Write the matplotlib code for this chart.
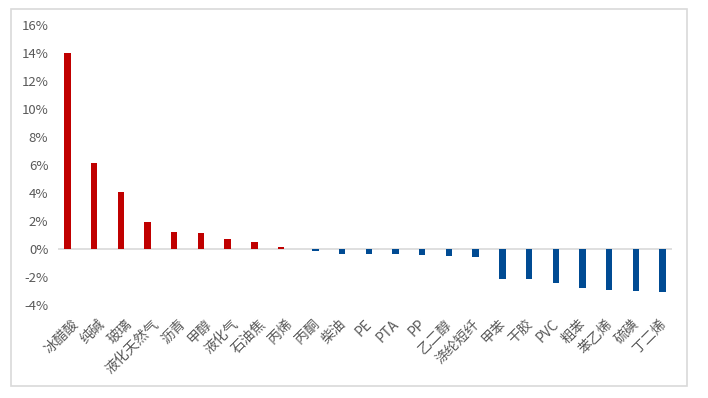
import numpy as np
import matplotlib.pyplot as plt
from matplotlib.patches import Rectangle
from matplotlib.ticker import FuncFormatter

plt.rcParams['font.family'] = ['Noto Sans CJK SC', 'DejaVu Sans']

names = ['冰醋酸', '纯碱', '玻璃', '液化天然气', '沥青', '甲醇', '液化气', '石油焦',
         '丙烯', '丙酮', '柴油', 'PE', 'PTA', 'PP', '乙二醇', '涤纶短纤', '甲苯',
         '干胶', 'PVC', '粗苯', '苯乙烯', '硫磺', '丁二烯']
changes = [14.0, 6.15, 4.1, 1.9, 1.18, 1.1, 0.72, 0.48, 0.1, -0.2, -0.36, -0.4,
           -0.4, -0.42, -0.52, -0.62, -2.17, -2.17, -2.48, -2.8, -2.96, -3.03, -3.1]
yticks = [-4, -2, 0, 2, 4, 6, 8, 10, 12, 14, 16]

red = '#c00000'
blue = '#004b93'
grey_text = '#595959'

fig = plt.figure(figsize=(7.08, 3.98), dpi=100)
fig.patches.append(Rectangle((11 / 708, 1 - 386 / 398), 676 / 708, 377 / 398,
                             transform=fig.transFigure, fill=False,
                             edgecolor='#d9d9d9', linewidth=1.2))
ax = fig.add_axes([58 / 708, 1 - 304.5 / 398, 614 / 708, 279 / 398])

# two series in Excel: rising (red, left slot) and falling (blue, right slot)
x = np.arange(len(names))
v = np.array(changes)
up = np.where(v > 0, v, np.nan)
down = np.where(v < 0, v, np.nan)
ax.bar(x - 0.145, up, width=0.24, color=red, zorder=2)
ax.bar(x + 0.145, down, width=0.24, color=blue, zorder=2)
ax.axhline(0, color='#d9d9d9', linewidth=1.2, zorder=1)

ax.set_xlim(-0.5, len(names) - 0.5)
ax.set_ylim(-4, 16)
ax.set_yticks(yticks)
ax.yaxis.set_major_formatter(FuncFormatter(lambda t, p: f'{t:.0f}%'))
ax.tick_params(axis='y', length=0, labelsize=9.5, labelcolor=grey_text, pad=7)

ax.set_xticks(x)
ax.set_xticklabels(names, rotation=45, ha='right', va='top',
                   rotation_mode='anchor', fontsize=10, color=grey_text)
ax.tick_params(axis='x', length=0, pad=9)

for s in ax.spines.values():
    s.set_visible(False)

fig.savefig('out.png', dpi=100)
